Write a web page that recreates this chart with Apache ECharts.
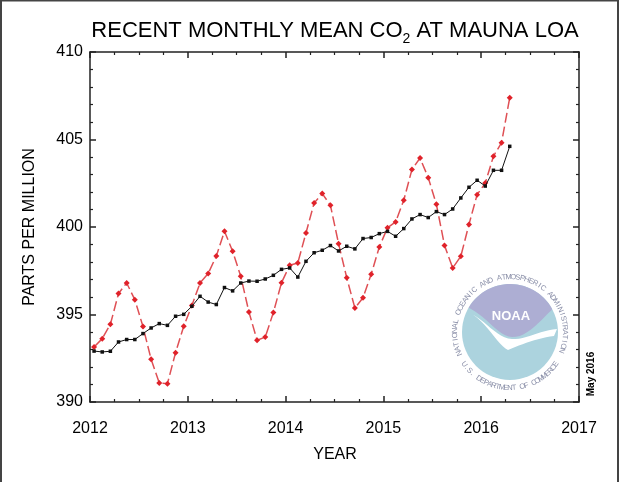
<!DOCTYPE html>
<html>
<head>
<meta charset="utf-8">
<script src="https://cdn.jsdelivr.net/npm/echarts@6/dist/echarts.min.js"></script>
<style>
  html, body { margin: 0; padding: 0; background: #fff; }
  #chart { width: 620px; height: 482px; }
</style>
</head>
<body>
<div id="chart"></div>
<script>
// monthly mean CO2 at Mauna Loa, Jan 2012 - Apr 2016 (ppm)
var startYear = 2012
var monthlyMean = [
  393.14, 393.62, 394.44, 396.20, 396.80, 395.85, 394.31, 392.44, 391.09, 391.05, 392.82, 394.33,
  395.51, 396.80, 397.34, 398.34, 399.76, 398.61, 397.18, 395.14, 393.53, 393.71, 395.11, 396.82,
  397.81, 397.95, 399.66, 401.37, 401.91, 401.24, 399.05, 397.10, 395.37, 395.96, 397.30, 398.86,
  399.96, 400.29, 401.53, 403.28, 403.94, 402.82, 401.30, 398.95, 397.66, 398.33, 400.15, 401.85,
  402.51, 404.04, 404.82, 407.39
]
// seasonally corrected (black line)
var trend = [
  392.91, 392.86, 392.90, 393.43, 393.57, 393.57, 393.91, 394.23, 394.48, 394.38, 394.90, 395.01,
  395.47, 396.04, 395.71, 395.57, 396.54, 396.35, 396.80, 396.91, 396.90, 397.03, 397.24, 397.58,
  397.66, 397.14, 398.04, 398.53, 398.67, 398.94, 398.63, 398.90, 398.75, 399.34, 399.40, 399.62,
  399.75, 399.47, 399.91, 400.46, 400.71, 400.54, 400.88, 400.71, 401.03, 401.66, 402.27, 402.67,
  402.34, 403.24, 403.24, 404.61
]
var xRange = [2012, 2017]
var yRange = [390, 410]

var font = "'Liberation Sans', Arial, Helvetica, sans-serif"

//decimal year at the middle of each month
function toPairs(values) {
    var out = []
    for (var i = 0; i < values.length; i++) {
        out.push([startYear + (i + 0.5) / 12, values[i]])
    }
    return out
}

//points on a circle arc, angles in degrees (counter-clockwise, y up)
function arcPts(cx, cy, r, a0, a1, n) {
    var pts = []
    for (var i = 0; i <= n; i++) {
        var a = (a0 + (a1 - a0) * i / n) * Math.PI / 180
        pts.push([cx + r * Math.cos(a), cy - r * Math.sin(a)])
    }
    return pts
}

//points on a cubic bezier
function bez(p0, p1, p2, p3, n) {
    var pts = []
    for (var i = 1; i <= n; i++) {
        var t = i / n, u = 1 - t
        pts.push([
            u * u * u * p0[0] + 3 * u * u * t * p1[0] + 3 * u * t * t * p2[0] + t * t * t * p3[0],
            u * u * u * p0[1] + 3 * u * u * t * p1[1] + 3 * u * t * t * p2[1] + t * t * t * p3[1]
        ])
    }
    return pts
}

//letters of the logo ring, placed one by one on an arc
function arcText(text, cx, cy, r, a0, a1, inward) {
    var els = []
    var n = text.length
    for (var i = 0; i < n; i++) {
        var a = (a0 + (a1 - a0) * (i + 0.5) / n) * Math.PI / 180
        els.push({
            type: 'text',
            x: cx + r * Math.cos(a),
            y: cy - r * Math.sin(a),
            rotation: inward ? a + Math.PI / 2 : a - Math.PI / 2,
            style: {
                text: text[i], fill: '#8a8fa8', font: '7.5px ' + font,
                textAlign: 'center', textVerticalAlign: 'middle'
            },
            z: 1
        })
    }
    return els
}

var cx = 510, cy = 332, cr = 48

var lavender = arcPts(cx, cy, cr, 149.5, 29, 30)
    .concat(bez([555, 307], [542, 318], [528, 338], [512, 337], 12))
    .concat(bez([512, 337], [498, 336], [488, 318], [471, 309], 12))

var bird = [[468, 312]]
    .concat(bez([468, 312], [486, 320], [498, 346], [508, 350], 12))
    .concat(bez([508, 350], [522, 344], [538, 338], [554, 336], 12))
    .concat([[557, 329]])
    .concat(bez([557, 329], [540, 330], [526, 340], [512, 339], 12))
    .concat(bez([512, 339], [496, 338], [486, 320], [468, 312], 12))

var logo = [
    { type: 'circle', shape: { cx: cx, cy: cy, r: cr }, style: { fill: '#acd3de' }, z: 1 },
    { type: 'polygon', shape: { points: lavender }, style: { fill: '#adaed3' }, z: 1 },
    { type: 'polygon', shape: { points: bird }, style: { fill: '#ffffff' }, z: 1 },
    { type: 'text', x: 511, y: 316, style: { text: 'NOAA', fill: '#fff', font: 'bold 13px ' + font, textAlign: 'center', textVerticalAlign: 'middle' }, z: 1 }
]
logo = logo.concat(arcText('NATIONAL OCEANIC AND ATMOSPHERIC ADMINISTRATION', cx, cy, 55, 205, -22, false))
logo = logo.concat(arcText('U.S. DEPARTMENT OF COMMERCE', cx, cy, 56, 213, 327, true))

var axisStyle = { color: '#222', width: 1.5 }
var minorStyle = { color: '#222', width: 1.2 }
var plain = function (v) { return String(v) }

var option = {
    animation: false,
    backgroundColor: '#fff',
    grid: { left: 90, right: 41, top: 52, bottom: 80 },
    xAxis: [{
        type: 'value', min: xRange[0], max: xRange[1], interval: 1, position: 'bottom',
        axisLine: { lineStyle: axisStyle },
        axisTick: { inside: true, length: 6, lineStyle: axisStyle },
        minorTick: { show: true, splitNumber: 4, length: 3, lineStyle: minorStyle },
        axisLabel: { fontSize: 16, color: '#000', fontFamily: font, margin: 19, formatter: plain },
        splitLine: { show: false }
    }, {
        type: 'value', min: xRange[0], max: xRange[1], interval: 1, position: 'top',
        axisLine: { lineStyle: axisStyle },
        axisTick: { inside: true, length: 6, lineStyle: axisStyle },
        minorTick: { show: true, splitNumber: 4, length: 3, lineStyle: minorStyle },
        axisLabel: { show: false },
        splitLine: { show: false }
    }],
    yAxis: [{
        type: 'value', min: yRange[0], max: yRange[1], interval: 5, position: 'left',
        axisLine: { show: true, lineStyle: axisStyle },
        axisTick: { show: true, inside: true, length: 6, lineStyle: axisStyle },
        minorTick: { show: true, splitNumber: 5, length: 3, lineStyle: minorStyle },
        axisLabel: { fontSize: 16, color: '#000', fontFamily: font, margin: 7, formatter: plain },
        splitLine: { show: false }
    }, {
        type: 'value', min: yRange[0], max: yRange[1], interval: 5, position: 'right',
        axisLine: { show: true, lineStyle: axisStyle },
        axisTick: { show: true, inside: true, length: 6, lineStyle: axisStyle },
        minorTick: { show: true, splitNumber: 5, length: 3, lineStyle: minorStyle },
        axisLabel: { show: false },
        splitLine: { show: false }
    }],
    graphic: [
        { type: 'rect', shape: { x: 1, y: 0.5, width: 617, height: 490 }, style: { fill: 'none', stroke: '#444', lineWidth: 2 } },
        {
            type: 'text', x: 335, y: 31,
            style: {
                text: 'RECENT MONTHLY MEAN CO{s|2} AT MAUNA LOA',
                font: '22px ' + font, fill: '#000',
                textAlign: 'center', textVerticalAlign: 'middle',
                rich: { s: { fontSize: 14, fontFamily: font, padding: [16, 0, 0, 0] } }
            }
        },
        { type: 'text', x: 335, y: 455, style: { text: 'YEAR', font: '16px ' + font, fill: '#000', textAlign: 'center', textVerticalAlign: 'middle' } },
        { type: 'text', x: 30, y: 227, rotation: Math.PI / 2, style: { text: 'PARTS PER MILLION', font: '16px ' + font, fill: '#000', textAlign: 'center', textVerticalAlign: 'middle' } },
        { type: 'text', x: 591, y: 374, rotation: Math.PI / 2, style: { text: 'May 2016', font: 'bold 10px ' + font, fill: '#000', textAlign: 'center', textVerticalAlign: 'middle' } }
    ].concat(logo),
    series: [{
        name: 'monthly mean', type: 'line', data: toPairs(monthlyMean),
        symbol: 'diamond', symbolSize: 6,
        itemStyle: { color: '#e0222a' },
        lineStyle: { color: '#df5055', width: 1.5, type: [10, 4] },
        z: 3
    }, {
        name: 'trend', type: 'line', data: toPairs(trend),
        symbol: 'rect', symbolSize: 3.5,
        itemStyle: { color: '#111' },
        lineStyle: { color: '#111', width: 1 },
        z: 4
    }]
}

var myChart = echarts.init(document.getElementById('chart'))
myChart.setOption(option)
</script>
</body>
</html>
